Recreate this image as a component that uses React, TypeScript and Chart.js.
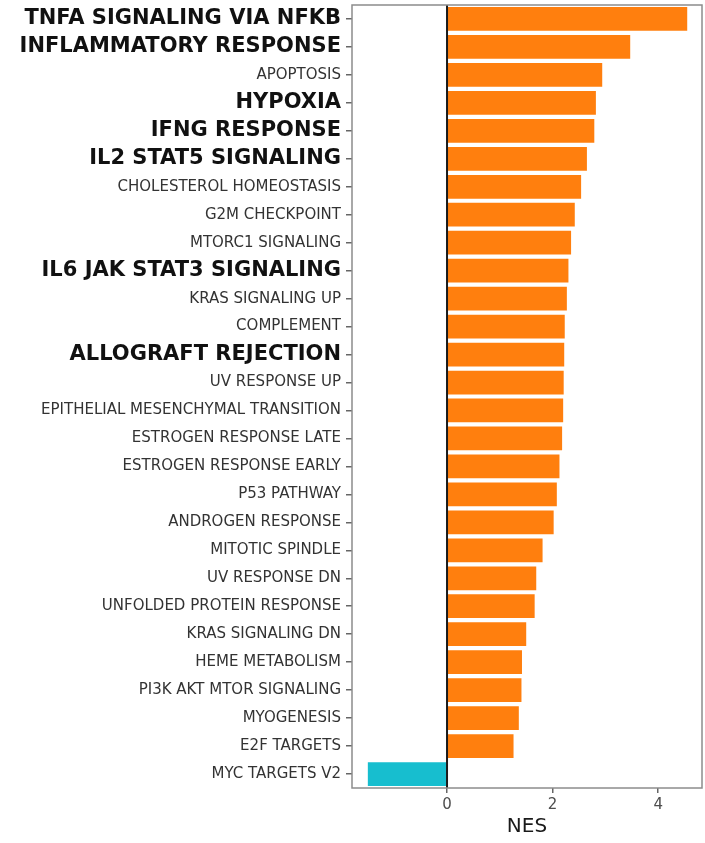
import React, { useEffect, useRef } from 'react';
import { Chart, registerables } from 'chart.js';

Chart.register(...registerables);

const categories = [
  'TNFA SIGNALING VIA NFKB',
  'INFLAMMATORY RESPONSE',
  'APOPTOSIS',
  'HYPOXIA',
  'IFNG RESPONSE',
  'IL2 STAT5 SIGNALING',
  'CHOLESTEROL HOMEOSTASIS',
  'G2M CHECKPOINT',
  'MTORC1 SIGNALING',
  'IL6 JAK STAT3 SIGNALING',
  'KRAS SIGNALING UP',
  'COMPLEMENT',
  'ALLOGRAFT REJECTION',
  'UV RESPONSE UP',
  'EPITHELIAL MESENCHYMAL TRANSITION',
  'ESTROGEN RESPONSE LATE',
  'ESTROGEN RESPONSE EARLY',
  'P53 PATHWAY',
  'ANDROGEN RESPONSE',
  'MITOTIC SPINDLE',
  'UV RESPONSE DN',
  'UNFOLDED PROTEIN RESPONSE',
  'KRAS SIGNALING DN',
  'HEME METABOLISM',
  'PI3K AKT MTOR SIGNALING',
  'MYOGENESIS',
  'E2F TARGETS',
  'MYC TARGETS V2',
];

const nesValues = [
  4.55, 3.47, 2.94, 2.82, 2.79, 2.65, 2.54, 2.42, 2.35, 2.3, 2.27, 2.23, 2.22, 2.21,
  2.2, 2.18, 2.13, 2.08, 2.02, 1.81, 1.69, 1.66, 1.5, 1.42, 1.41, 1.36, 1.26, -1.5,
];

const highlighted = [
  'TNFA SIGNALING VIA NFKB',
  'INFLAMMATORY RESPONSE',
  'HYPOXIA',
  'IFNG RESPONSE',
  'IL2 STAT5 SIGNALING',
  'IL6 JAK STAT3 SIGNALING',
  'ALLOGRAFT REJECTION',
];

const xTickValues = [0, 2, 4];
const xMin = -1.8;
const xMax = 4.83;

const positiveColor = '#FF7F0E';
const negativeColor = '#17BECF';

export default function App() {
  const ref = useRef<HTMLCanvasElement>(null);

  useEffect(() => {
    document.body.style.margin = '0';
    const framePlugin = {
      id: 'frame',
      afterDatasetsDraw(chart: any) {
        const { ctx, chartArea, scales } = chart;
        const x0 = scales.x.getPixelForValue(0);
        ctx.save();
        ctx.strokeStyle = '#1a1a1a';
        ctx.lineWidth = 2;
        ctx.beginPath();
        ctx.moveTo(x0, chartArea.top);
        ctx.lineTo(x0, chartArea.bottom);
        ctx.stroke();
        ctx.strokeStyle = '#8c8c8c';
        ctx.lineWidth = 1.5;
        ctx.strokeRect(
          chartArea.left,
          chartArea.top,
          chartArea.right - chartArea.left,
          chartArea.bottom - chartArea.top
        );
        ctx.restore();
      },
    };

    const chart = new Chart(ref.current as HTMLCanvasElement, {
      type: 'bar',
      data: {
        labels: categories,
        datasets: [
          {
            data: nesValues,
            backgroundColor: nesValues.map((v) => (v >= 0 ? positiveColor : negativeColor)),
            barPercentage: 0.85,
            categoryPercentage: 1,
          },
        ],
      },
      options: {
        indexAxis: 'y',
        responsive: false,
        animation: false,
        layout: { padding: { top: 5, right: 3, left: 0, bottom: 0 } },
        plugins: { legend: { display: false }, tooltip: { enabled: false } },
        scales: {
          x: {
            type: 'linear',
            min: xMin,
            max: xMax,
            afterBuildTicks: (s: any) => {
              s.ticks = xTickValues.map((v) => ({ value: v }));
            },
            afterFit: (s: any) => {
              s.height = 55;
              s.paddingLeft = 0;
              s.paddingRight = 0;
            },
            grid: {
              drawOnChartArea: false,
              drawTicks: true,
              tickLength: 5,
              tickColor: '#666',
              lineWidth: 1.5,
            },
            border: { display: false },
            ticks: {
              padding: 3,
              color: '#4d4d4d',
              font: { family: 'DejaVu Sans', size: 15 },
            },
            title: {
              display: true,
              text: 'NES',
              color: '#1a1a1a',
              font: { family: 'DejaVu Sans', size: 20 },
              padding: { top: 0, bottom: 4 },
            },
          },
          y: {
            type: 'category',
            afterFit: (s: any) => {
              s.width = 352;
              s.paddingTop = 0;
              s.paddingBottom = 0;
            },
            grid: {
              offset: false,
              drawOnChartArea: false,
              drawTicks: true,
              tickLength: 6,
              tickColor: '#666',
              lineWidth: 1.5,
            },
            border: { display: false },
            ticks: {
              autoSkip: false,
              padding: 5,
              color: (c: any) =>
                highlighted.includes(categories[c.index]) ? '#111111' : '#333333',
              font: (c: any) =>
                highlighted.includes(categories[c.index])
                  ? { family: 'DejaVu Sans', size: 21, weight: 'bold' }
                  : { family: 'DejaVu Sans', size: 15, weight: 'normal' },
            },
          },
        },
      },
      plugins: [framePlugin],
    } as any);

    return () => chart.destroy();
  }, []);

  return (
    <div style={{ position: 'fixed', left: 0, top: 0, width: 705, height: 843, background: '#fff' }}>
      <canvas ref={ref} width={705} height={843} style={{ display: 'block' }} />
    </div>
  );
}
